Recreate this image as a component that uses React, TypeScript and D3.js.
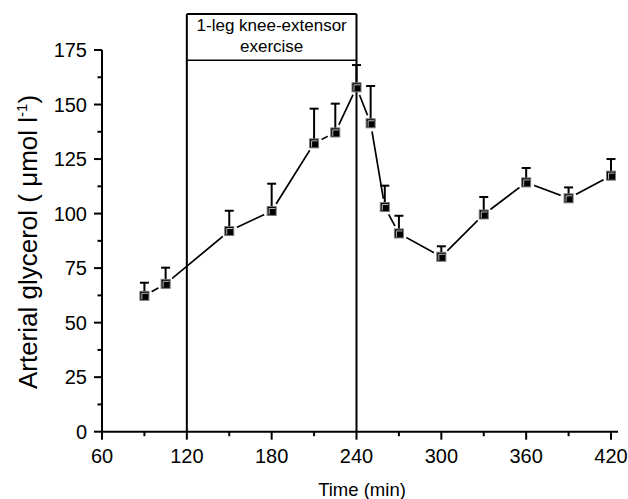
import React from "react";
import * as d3 from "d3";

// time after start (min) and arterial glycerol, mean and upward SEM
const times = [90, 105, 150, 180, 210, 225, 240, 250, 260, 270, 300, 330, 360, 390, 420];
const glycerol = [62.3, 67.8, 92.0, 101.2, 132.2, 137.2, 157.9, 141.4, 103.0, 90.9, 80.2, 99.6, 114.3, 107.0, 117.4];
const sem = [6.0, 7.4, 9.3, 12.5, 15.9, 13.2, 10.2, 17.1, 9.8, 8.1, 4.8, 8.0, 6.6, 5.0, 7.6];

const xTicks = [60, 120, 180, 240, 300, 360, 420];
const xMinor = [90, 150, 210, 270, 330, 390];
const yTicks = [0, 25, 50, 75, 100, 125, 150, 175];
const yMinor = [12.5, 37.5, 62.5, 87.5, 112.5, 137.5, 162.5];

const exercise = { start: 120, end: 240, label: ["1-leg knee-extensor", "exercise"] };

const W = 628;
const H = 499;
const font = "'Liberation Sans', Arial, Helvetica, sans-serif";

const App = () => {
  const x = d3.scaleLinear().domain([60, 420]).range([102, 611]);
  const y = d3.scaleLinear().domain([0, 175]).range([431.7, 50]);
  const pts = times.map((t, i) => ({ t, v: glycerol[i], e: sem[i] }));
  const line = d3
    .line<{ t: number; v: number }>()
    .x(d => x(d.t))
    .y(d => y(d.v));

  const boxTop = 14;
  const boxDivider = y(170.3);
  const x0 = x(60);
  const y0 = y(0);

  return (
    <svg
      width={W}
      height={H}
      style={{ position: "absolute", left: 0, top: 0, background: "#fff" }}
      fontFamily={font}
    >
      <rect width={W} height={H} fill="#fff" />

      {/* connecting line, then white halos so the segments stop short of markers */}
      <path d={line(pts) || ""} fill="none" stroke="#000" strokeWidth={1.7} />
      {pts.map((d, i) => (
        <circle key={"h" + i} cx={x(d.t)} cy={y(d.v)} r={8.5} fill="#fff" />
      ))}

      {/* exercise box */}
      <g fill="none" stroke="#000">
        <line x1={x(exercise.start)} x2={x(exercise.start)} y1={boxTop} y2={y0} strokeWidth={2} />
        <line x1={x(exercise.end)} x2={x(exercise.end)} y1={boxTop} y2={y0} strokeWidth={2} />
        <line x1={x(exercise.start)} x2={x(exercise.end)} y1={boxTop} y2={boxTop} strokeWidth={2} />
        <line x1={x(exercise.start)} x2={x(exercise.end)} y1={boxDivider} y2={boxDivider} strokeWidth={1.5} />
      </g>
      {exercise.label.map((s, i) => (
        <text
          key={s}
          x={(x(exercise.start) + x(exercise.end)) / 2}
          y={31 + i * 20.5}
          textAnchor="middle"
          fontSize={17}
          fill="#000"
        >
          {s}
        </text>
      ))}

      {/* error bars */}
      <g stroke="#000" strokeWidth={2}>
        {pts.map((d, i) => (
          <g key={"e" + i}>
            <line x1={x(d.t)} x2={x(d.t)} y1={y(d.v)} y2={y(d.v + d.e)} />
            <line x1={x(d.t) - 4.5} x2={x(d.t) + 4.5} y1={y(d.v + d.e)} y2={y(d.v + d.e)} />
          </g>
        ))}
      </g>

      {/* markers */}
      {pts.map((d, i) => {
        const cx = x(d.t);
        const cy = y(d.v);
        return (
          <g key={"m" + i}>
            <rect x={cx - 4.5} y={cy - 4.5} width={9} height={9} fill="#000" stroke="#777" strokeWidth={1} />
            <path
              d={`M${cx - 2.5},${cy + 3.5}V${cy - 2.5}H${cx + 3.5}`}
              fill="none"
              stroke="#bbb"
              strokeWidth={1}
            />
          </g>
        );
      })}

      {/* axes */}
      <g stroke="#000" strokeWidth={2} fill="none">
        <line x1={x0} x2={x0} y1={y(175)} y2={y0 + 1} />
        <line x1={x0 - 1} x2={618} y1={y0} y2={y0} />
        {xTicks.map(t => (
          <line key={"xt" + t} x1={x(t)} x2={x(t)} y1={y0} y2={y0 + 8} />
        ))}
        {xMinor.map(t => (
          <line key={"xm" + t} x1={x(t)} x2={x(t)} y1={y0} y2={y0 + 4.5} />
        ))}
        {yTicks.map(t => (
          <line key={"yt" + t} x1={x0 - 8} x2={x0} y1={y(t)} y2={y(t)} />
        ))}
        {yMinor.map(t => (
          <line key={"ym" + t} x1={x0 - 4.5} x2={x0} y1={y(t)} y2={y(t)} />
        ))}
      </g>
      {xTicks.map(t => (
        <text key={"xl" + t} x={x(t)} y={y0 + 31} textAnchor="middle" fontSize={20} fill="#000">
          {t}
        </text>
      ))}
      {yTicks.map(t => (
        <text key={"yl" + t} x={x0 - 15} y={y(t) + 7} textAnchor="end" fontSize={20} fill="#000">
          {t}
        </text>
      ))}

      <text x={362} y={496} textAnchor="middle" fontSize={18.5} fill="#000">
        Time (min)
      </text>
      <text transform="translate(37,242) rotate(-90)" textAnchor="middle" fontSize={26} fill="#000">
        Arterial glycerol ( μmol l
        <tspan dy={-10} fontSize={15}>-1</tspan>
        <tspan dy={10}>)</tspan>
      </text>
    </svg>
  );
};

export default App;
